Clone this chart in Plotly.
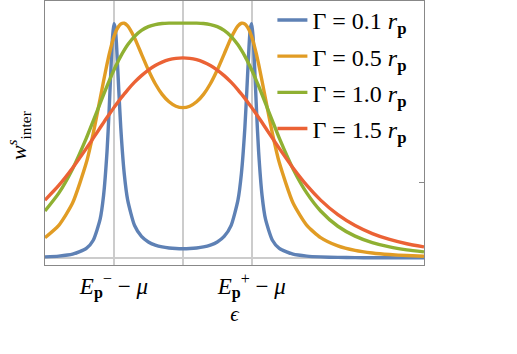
import plotly.graph_objects as go

eps = [-2.0, -1.8, -1.6, -1.4, -1.3, -1.2, -1.15, -1.1, -1.07, -1.04, -1.02, -1.0, -0.98, -0.96, -0.93, -0.9, -0.85, -0.8,
       -0.7, -0.6, -0.5, -0.4, -0.3, -0.2, -0.1, 0.0, 0.1, 0.2, 0.3, 0.4, 0.5, 0.6, 0.7, 0.8, 0.85, 0.9, 0.93, 0.96, 0.98,
       1.0, 1.02, 1.04, 1.07, 1.1, 1.15, 1.2, 1.3, 1.4, 1.6, 1.8, 2.0, 2.25, 2.5, 2.75, 3.0, 3.25, 3.5]

w_g01 = [1.10, 1.96, 3.99, 10.19, 18.87, 41.24, 66.42, 113.1, 156.3, 206.6, 235.1, 249.4, 244.6, 223.8, 179.7, 138.1, 89.64, 61.54,
         34.48, 22.89, 17.02, 13.72, 11.76, 10.61, 10.00, 9.80,
         10.00, 10.61, 11.76, 13.72, 17.02, 22.89, 34.48, 61.54, 89.64, 138.1, 179.7, 223.8, 244.6, 249.4, 235.1, 206.6,
         156.3, 113.1, 66.42, 41.24, 18.87, 10.19, 3.99, 1.96, 1.10, 0.60, 0.36, 0.23, 0.16, 0.11, 0.08]
w_g05 = [21.62, 34.72, 58.46, 101.5, 132.7, 169.4, 188.3, 206.3, 216.3, 225.2, 230.6, 235.3, 239.4, 242.8, 246.7, 249.1, 249.8, 247.0,
         234.2, 217.0, 200.0, 185.4, 174.1, 166.2, 161.5, 160.0,
         161.5, 166.2, 174.1, 185.4, 200.0, 217.0, 234.2, 247.0, 249.8, 249.1, 246.7, 242.8, 239.4, 235.3, 230.6, 225.2,
         216.3, 206.3, 188.3, 169.4, 132.7, 101.5, 58.46, 34.72, 21.62, 12.76, 8.00, 5.27, 3.62, 2.57, 1.88]
w_g10 = [50.00, 68.98, 94.75, 127.5, 145.9, 164.6, 173.9, 183.0, 188.3, 193.4, 196.8, 200.0, 203.2, 206.2, 210.6, 214.8, 221.1, 226.8,
         235.8, 242.2, 246.2, 248.4, 249.5, 249.9, 250.0, 250.0,
         250.0, 249.9, 249.5, 248.4, 246.2, 242.2, 235.8, 226.8, 221.1, 214.8, 210.6, 206.2, 203.2, 200.0, 196.8, 193.4,
         188.3, 183.0, 173.9, 164.6, 145.9, 127.5, 94.75, 68.98, 50.00, 33.75, 23.22, 16.34, 11.76, 8.65, 6.49]
w_g15 = [61.54, 77.16, 95.68, 116.6, 127.5, 138.6, 144.1, 149.5, 152.7, 155.9, 157.9, 160.0, 162.0, 164.0, 167.0, 169.9, 174.5, 179.0,
         187.1, 194.1, 200.0, 204.8, 208.4, 211.0, 212.5, 213.0,
         212.5, 211.0, 208.4, 204.8, 200.0, 194.1, 187.1, 179.0, 174.5, 169.9, 167.0, 164.0, 162.0, 160.0, 157.9, 155.9,
         152.7, 149.5, 144.1, 138.6, 127.5, 116.6, 95.68, 77.16, 61.54, 46.06, 34.48, 25.96, 19.73, 15.15, 11.76]

series_names = ["Γ = 0.1 <i>r</i><sub><b>p</b></sub>", "Γ = 0.5 <i>r</i><sub><b>p</b></sub>",
                "Γ = 1.0 <i>r</i><sub><b>p</b></sub>", "Γ = 1.5 <i>r</i><sub><b>p</b></sub>"]
colors = ["#5E81B5", "#E19C24", "#8FB032", "#EB6235"]

x_tickvals = [-1.0, 0.0, 1.0]
x_ticktext = ["<i>E</i><sub><b>p</b></sub><sup>−</sup> − <i>μ</i>", "",
              "<i>E</i><sub><b>p</b></sub><sup>+</sup> − <i>μ</i>"]
y_tickvals = [80]

SERIF = "Liberation Serif"

fig = go.Figure()
for i, (name, ys) in enumerate(zip(series_names, [w_g01, w_g05, w_g10, w_g15])):
    fig.add_trace(go.Scatter(x=eps, y=ys, mode="lines", name=name,
                             line=dict(color=colors[i], width=3.4, shape="spline", smoothing=0.6),
                             legendgroup=str(i)))

fig.update_layout(
    width=517, height=354,
    margin=dict(l=45, r=93, t=1, b=89, autoexpand=False),
    plot_bgcolor="white", paper_bgcolor="white",
    font=dict(family=SERIF, color="black"),
    showlegend=True,
    legend=dict(x=0.6, xanchor="left", y=1.012, yanchor="top", bgcolor="rgba(0,0,0,0)",
                font=dict(family=SERIF, size=24), tracegroupgap=2, itemwidth=30),
    xaxis=dict(range=[-2.0, 3.5], tickvals=x_tickvals, ticktext=x_ticktext, automargin=False,
               showgrid=True, gridcolor="#cccccc", gridwidth=2, zeroline=False,
               showline=True, linecolor="#888888", linewidth=1, mirror=True,
               ticks="", tickfont=dict(family=SERIF, size=23),
               title=dict(text="<i>ϵ</i>", font=dict(family=SERIF, size=21), standoff=4)),
    yaxis=dict(range=[-7.5, 273.5], tickvals=y_tickvals, showticklabels=False, side="right", automargin=False,
               ticks="inside", ticklen=5, tickcolor="#888888",
               showgrid=False, zeroline=True, zerolinecolor="#cccccc", zerolinewidth=2,
               showline=True, linecolor="#888888", linewidth=1, mirror=True),
    annotations=[dict(text="<i>w</i><sup><i>s</i></sup><sub>inter</sub>", xref="paper", yref="paper",
                      x=-0.07, y=0.49, textangle=-90, showarrow=False,
                      font=dict(family=SERIF, size=22), xanchor="center", yanchor="middle")],
)

fig.write_html("out.html", post_script="document.body.style.margin='0';",
               config={"displayModeBar": False})
